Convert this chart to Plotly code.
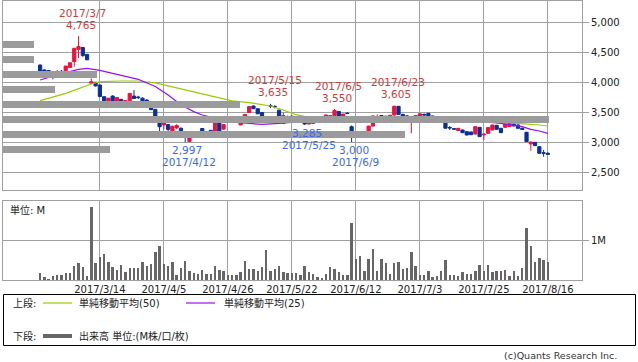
import plotly.graph_objects as go

# ---------------- data ----------------
dates = ["2017/2/22","2017/2/23","2017/2/24","2017/2/27","2017/2/28","2017/3/1","2017/3/2","2017/3/3","2017/3/6","2017/3/7",
         "2017/3/8","2017/3/9","2017/3/10","2017/3/13","2017/3/14","2017/3/15","2017/3/16","2017/3/17","2017/3/21","2017/3/22",
         "2017/3/23","2017/3/24","2017/3/27","2017/3/28","2017/3/29","2017/3/30","2017/3/31","2017/4/3","2017/4/4","2017/4/5",
         "2017/4/6","2017/4/7","2017/4/10","2017/4/11","2017/4/12","2017/4/13","2017/4/14","2017/4/17","2017/4/18","2017/4/19",
         "2017/4/20","2017/4/21","2017/4/24","2017/4/25","2017/4/26","2017/4/27","2017/4/28","2017/5/1","2017/5/2","2017/5/8",
         "2017/5/9","2017/5/10","2017/5/11","2017/5/12","2017/5/15","2017/5/16","2017/5/17","2017/5/18","2017/5/19","2017/5/22",
         "2017/5/23","2017/5/24","2017/5/25","2017/5/26","2017/5/29","2017/5/30","2017/5/31","2017/6/1","2017/6/2","2017/6/5",
         "2017/6/6","2017/6/7","2017/6/8","2017/6/9","2017/6/12","2017/6/13","2017/6/14","2017/6/15","2017/6/16","2017/6/19",
         "2017/6/20","2017/6/21","2017/6/22","2017/6/23","2017/6/26","2017/6/27","2017/6/28","2017/6/29","2017/6/30","2017/7/3",
         "2017/7/4","2017/7/5","2017/7/6","2017/7/7","2017/7/10","2017/7/11","2017/7/12","2017/7/13","2017/7/14","2017/7/18",
         "2017/7/19","2017/7/20","2017/7/21","2017/7/24","2017/7/25","2017/7/26","2017/7/27","2017/7/28","2017/7/31","2017/8/1",
         "2017/8/2","2017/8/3","2017/8/4","2017/8/7","2017/8/8","2017/8/9","2017/8/10","2017/8/14","2017/8/15","2017/8/16"]

opens = [4283,4200,4190,4150,4090,4178,4190,4240,4340,4545,
         4575,4460,3980,3995,3950,3755,3660,3765,3670,3710,
         3635,3690,3765,3750,3730,3700,3610,3545,3365,3285,
         3290,3180,3235,3230,3095,3010,3090,3095,3225,3120,
         3195,3175,3335,3215,3330,3385,3375,3285,3365,3490,
         3600,3555,3490,3410,3605,3592,3530,3310,3425,3430,
         3380,3397,3365,3300,3310,3397,3413,3410,3430,3440,
         3510,3433,3480,3255,3075,3105,3097,3117,3265,3410,
         3440,3405,3415,3450,3595,3460,3435,3370,3395,3400,
         3460,3478,3415,3425,3415,3340,3242,3222,3190,3200,
         3172,3167,3133,3245,3118,3145,3200,3278,3228,3245,
         3256,3300,3283,3228,3161,2967,2994,2922,2822,2811]
highs = [4290,4210,4195,4160,4200,4200,4270,4325,4570,4765,
         4580,4470,4060,4000,3955,3760,3735,3780,3750,3720,
         3700,3815,3865,3770,3745,3710,3620,3550,3370,3380,
         3300,3275,3295,3240,3110,3130,3160,3175,3230,3175,
         3200,3330,3345,3300,3400,3395,3385,3370,3465,3595,
         3610,3560,3495,3415,3635,3615,3540,3490,3440,3440,
         3395,3410,3370,3370,3415,3410,3425,3455,3440,3550,
         3515,3470,3500,3275,3135,3120,3115,3270,3440,3460,
         3450,3440,3450,3605,3600,3470,3450,3410,3445,3480,
         3475,3485,3440,3432,3425,3345,3265,3230,3230,3205,
         3175,3172,3260,3250,3145,3245,3290,3285,3235,3305,
         3345,3320,3295,3240,3170,3005,3000,2930,2867,2830]
lows = [4100,4100,4140,4045,4085,4150,4135,4235,4255,4400,
        4420,4365,3975,3925,3745,3590,3650,3650,3600,3605,
        3625,3685,3720,3715,3620,3570,3530,3415,3165,3210,
        3180,3175,3215,3120,2997,3000,3080,3085,3115,3110,
        3125,3170,3165,3200,3320,3335,3320,3280,3360,3485,
        3550,3465,3420,3330,3565,3560,3395,3300,3400,3335,
        3360,3375,3285,3295,3305,3380,3395,3405,3320,3435,
        3420,3425,3465,3000,3070,3085,3085,3110,3260,3405,
        3400,3400,3410,3440,3455,3390,3340,3145,3390,3395,
        3440,3375,3405,3410,3400,3225,3200,3205,3185,3150,
        3110,3115,3128,3085,3035,3140,3195,3205,3150,3240,
        3250,3260,3225,3200,3000,2855,2935,2805,2755,2790]
closes = [4172,4183,4145,4105,4135,4165,4265,4320,4560,4590,
          4440,4370,4005,3935,3760,3655,3730,3655,3740,3615,
          3690,3810,3725,3740,3660,3590,3540,3430,3255,3320,
          3210,3260,3275,3145,3080,3125,3145,3170,3120,3170,
          3130,3320,3175,3290,3395,3340,3325,3365,3460,3590,
          3555,3470,3425,3335,3598,3585,3400,3440,3420,3340,
          3375,3392,3300,3365,3410,3392,3409,3450,3436,3525,
          3425,3466,3475,3117,3130,3098,3103,3265,3435,3425,
          3410,3430,3445,3595,3460,3400,3395,3405,3440,3470,
          3450,3380,3432,3420,3408,3230,3235,3215,3228,3155,
          3117,3122,3255,3090,3130,3240,3283,3212,3155,3300,
          3339,3267,3228,3212,3006,3000,2939,2811,2811,2795]
volume_m = [0.18,0.075,0.03,0.10,0.125,0.125,0.18,0.18,0.35,0.42,
            0.33,0.10,1.83,0.42,0.575,0.65,0.45,0.33,0.25,0.375,
            0.20,0.30,0.30,0.30,0.45,0.35,0.40,0.70,0.85,0.40,
            0.35,0.45,0.125,0.30,0.475,0.225,0.175,0.15,0.25,0.15,
            0.15,0.35,0.25,0.225,0.125,0.125,0.125,0.20,0.475,0.275,
            0.275,0.225,0.325,0.75,0.225,0.275,0.35,0.20,0.175,0.175,
            0.175,0.125,0.35,0.20,0.15,0.075,0.05,0.15,0.325,0.275,
            0.20,0.125,0.125,1.425,0.525,0.60,0.225,0.525,0.775,0.225,
            0.525,0.425,0.15,0.425,0.45,0.275,0.30,0.70,0.35,0.125,
            0.125,0.225,0.075,0.10,0.225,0.50,0.125,0.125,0.10,0.20,
            0.15,0.15,0.225,0.375,0.225,0.375,0.20,0.225,0.225,0.25,
            0.10,0.225,0.10,0.30,1.30,0.85,0.45,0.55,0.50,0.45]

ma25_dates = ["2017/2/22","2017/3/1","2017/3/7","2017/3/9","2017/3/14","2017/3/22","2017/3/28","2017/4/3","2017/4/6",
              "2017/4/11","2017/4/14","2017/4/18","2017/4/21","2017/4/26","2017/4/28","2017/5/2","2017/5/11","2017/5/17",
              "2017/5/23","2017/5/29","2017/6/2","2017/6/8","2017/6/14","2017/6/21","2017/6/28","2017/7/4","2017/7/11",
              "2017/7/18","2017/7/25","2017/7/31","2017/8/7","2017/8/9","2017/8/14","2017/8/16"]
ma25_values = [4033,4140,4211,4228,4195,4117,4045,3925,3783,
               3620,3506,3450,3394,3350,3325,3311,3294,3311,
               3339,3356,3378,3385,3394,3406,3400,3385,3360,
               3350,3339,3311,3256,3211,3183,3144]
ma50_dates = ["2017/2/22","2017/3/2","2017/3/10","2017/3/14","2017/3/22","2017/3/28","2017/4/3","2017/4/10","2017/4/17",
              "2017/4/21","2017/4/27","2017/5/8","2017/5/15","2017/5/18","2017/5/23","2017/5/29","2017/6/2","2017/6/8",
              "2017/6/14","2017/6/22","2017/6/29","2017/7/4","2017/7/11","2017/7/18","2017/7/25","2017/7/31","2017/8/4",
              "2017/8/14","2017/8/16"]
ma50_values = [3689,3811,3967,4006,4017,4017,3985,3900,3825,
               3756,3685,3656,3600,3533,3455,3394,3378,3367,
               3339,3328,3350,3390,3383,3367,3356,3339,3311,
               3283,3267]

vp_price = [2875, 3125, 3375, 3625, 3875, 4125, 4375, 4625]
vp_volume = [107, 402, 546, 237, 52, 94, 31, 31]

tick_dates = ["2017/3/14","2017/4/5","2017/4/26","2017/5/22","2017/6/12","2017/7/3","2017/7/25","2017/8/16"]
price_ticks = [2500, 3000, 3500, 4000, 4500, 5000]
price_tick_text = ["2,500", "3,000", "3,500", "4,000", "4,500", "5,000"]

peak_dates = ["2017/3/7", "2017/5/15", "2017/6/5", "2017/6/23"]
trough_dates = ["2017/4/12", "2017/5/25", "2017/6/9"]

# ---------------- style ----------------
FONT = "DejaVu Sans, Noto Sans CJK JP, sans-serif"
GRID = "#a0a0a0"
UP = "#f0103c"
DOWN = "#0a2f96"
MA50_C = "#99cc00"
MA25_C = "#9a10f0"
TXT_RED = "#d03a3a"
TXT_BLUE = "#3a6af0"

W, H = 638, 362
ML, MR, MT, MB = 3, 56, 1, 82
PW = W - ML - MR
PH = H - MT - MB


def px(xpix):
    return (xpix - ML) / PW


def py(ypix):
    return (H - MB - ypix) / PH


fig = go.Figure()

# volume-by-price bars (behind)
fig.add_trace(go.Bar(
    x=vp_volume, y=vp_price, orientation="h", xaxis="x3", yaxis="y",
    width=133, marker=dict(color="#9b9b9b", line=dict(width=0)),
    hoverinfo="skip", showlegend=False))

# moving averages
fig.add_trace(go.Scatter(x=ma50_dates, y=ma50_values, mode="lines", xaxis="x", yaxis="y",
                         line=dict(color=MA50_C, width=1.2), showlegend=False, hoverinfo="skip"))
fig.add_trace(go.Scatter(x=ma25_dates, y=ma25_values, mode="lines", xaxis="x", yaxis="y",
                         line=dict(color=MA25_C, width=1.2), showlegend=False, hoverinfo="skip"))

# candlesticks
fig.add_trace(go.Candlestick(
    x=dates, open=opens, high=highs, low=lows, close=closes, xaxis="x", yaxis="y",
    increasing=dict(line=dict(color=UP, width=1), fillcolor=UP),
    decreasing=dict(line=dict(color=DOWN, width=1), fillcolor=DOWN),
    whiskerwidth=0, showlegend=False))

# volume
fig.add_trace(go.Bar(x=dates, y=volume_m, xaxis="x2", yaxis="y2", width=0.55,
                     marker=dict(color="#666666", line=dict(width=0)), showlegend=False))

x_range = [-8.7, 127.0]
y_top_dom = [py(190), 1]
y_vol_dom = [0, py(201)]

axis_common = dict(showline=True, linecolor=GRID, linewidth=1, mirror=True,
                   gridcolor=GRID, gridwidth=1, zeroline=False)

fig.update_layout(
    width=W, height=H,
    margin=dict(l=ML, r=MR, t=MT, b=MB),
    paper_bgcolor="white", plot_bgcolor="white",
    font=dict(family=FONT, size=10, color="#333333"),
    showlegend=False, boxgap=0.25, boxgroupgap=0, bargap=0, hovermode=False,
    xaxis=dict(domain=[0, 1], anchor="y", type="category", categoryorder="array", categoryarray=dates,
               range=x_range, tickmode="array", tickvals=tick_dates, showticklabels=False,
               showgrid=True, rangeslider=dict(visible=False), ticks="", **axis_common),
    xaxis2=dict(domain=[0, 1], anchor="y2", type="category", categoryorder="array", categoryarray=dates,
                range=x_range, matches="x", tickmode="array", tickvals=tick_dates, showticklabels=True,
                showgrid=True, ticks="", tickfont=dict(size=10, color="#222222"), **axis_common),
    xaxis3=dict(overlaying="x", anchor="y", range=[0, PW], visible=False, showgrid=False),
    yaxis=dict(domain=y_top_dom, anchor="x", side="right", range=[2200, 5350],
               tickmode="array", tickvals=price_ticks, ticktext=price_tick_text,
               ticks="outside", ticklen=6, tickcolor=GRID, tickfont=dict(size=10, color="#222222"),
               showgrid=True, **axis_common),
    yaxis2=dict(domain=y_vol_dom, anchor="x2", side="right", range=[0, 1.975],
                tickmode="array", tickvals=[1], ticktext=["1M"],
                ticks="outside", ticklen=6, tickcolor=GRID, tickfont=dict(size=10, color="#222222"),
                showgrid=True, **axis_common),
)

annotations = []
for d in peak_dates:
    i = dates.index(d)
    annotations.append(dict(x=d, y=highs[i], xref="x", yref="y", text=f"{highs[i]:,}", showarrow=False,
                             xanchor="center", yanchor="middle", yshift=11.5, xshift=2,
                             font=dict(size=10.5, color=TXT_RED)))
    annotations.append(dict(x=d, y=highs[i], xref="x", yref="y", text=d, showarrow=False,
                             xanchor="center", yanchor="middle", yshift=23.5, xshift=4,
                             font=dict(size=10.5, color=TXT_RED)))
for d in trough_dates:
    i = dates.index(d)
    annotations.append(dict(x=d, y=lows[i], xref="x", yref="y", text=f"{lows[i]:,}", showarrow=False,
                             xanchor="center", yanchor="middle", yshift=-8, xshift=2,
                             font=dict(size=10.5, color=TXT_BLUE)))
    annotations.append(dict(x=d, y=lows[i], xref="x", yref="y", text=d, showarrow=False,
                             xanchor="center", yanchor="middle", yshift=-20, xshift=4,
                             font=dict(size=10.5, color=TXT_BLUE)))

# panel label and legend texts
def ptext(text, xpix, ypix, anchor="left", size=10, color="#222222"):
    annotations.append(dict(x=px(xpix), y=py(ypix), xref="paper", yref="paper", text=text,
                            showarrow=False, xanchor=anchor, yanchor="middle",
                            font=dict(size=size, color=color)))

ptext("単位: M", 8, 210)
ptext("上段:", 11, 303)
ptext("単純移動平均(50)", 77, 303)
ptext("単純移動平均(25)", 222, 303)
ptext("下段:", 11, 336)
ptext("出来高 単位:(M株/口/枚)", 77, 336)
ptext("(c)Quants Research Inc.", 619, 355, anchor="right", size=9.5, color="#333333")

fig.update_layout(annotations=annotations)

shapes = [
    dict(type="rect", xref="paper", yref="paper", x0=px(3.5), x1=px(635.5), y0=py(345.5), y1=py(294.5),
         line=dict(color="#000000", width=1), fillcolor="rgba(0,0,0,0)"),
    dict(type="line", xref="paper", yref="paper", x0=px(43), x1=px(72), y0=py(303), y1=py(303),
         line=dict(color=MA50_C, width=1.2)),
    dict(type="line", xref="paper", yref="paper", x0=px(186), x1=px(215), y0=py(303), y1=py(303),
         line=dict(color=MA25_C, width=1.2)),
    dict(type="line", xref="paper", yref="paper", x0=px(43), x1=px(72), y0=py(336), y1=py(336),
         line=dict(color="#666666", width=4)),
]
fig.update_layout(shapes=shapes)

fig.write_html("out.html", config={"displayModeBar": False, "staticPlot": True},
               post_script="document.body.style.margin='0';document.body.style.overflow='hidden';")
